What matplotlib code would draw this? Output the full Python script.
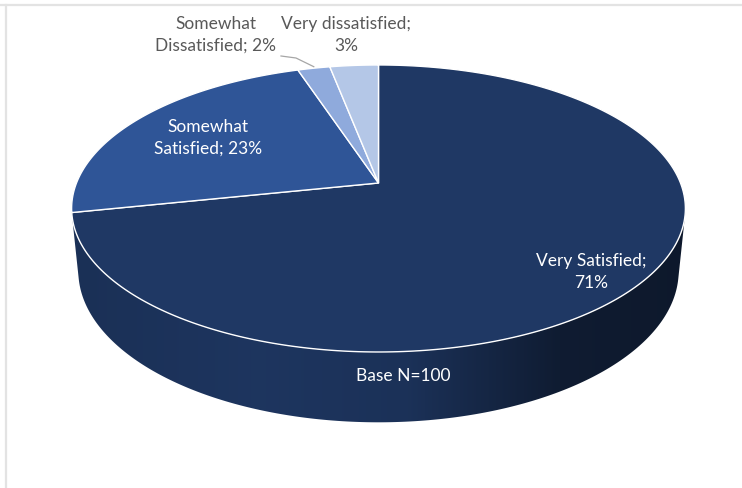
import numpy as np
import matplotlib
matplotlib.use("Agg")
import matplotlib.pyplot as plt
from matplotlib.patches import Polygon
from matplotlib.lines import Line2D
from matplotlib.colors import to_rgb

# ---------------- data ----------------
categories = ["Very Satisfied", "Somewhat\nSatisfied", "Somewhat\nDissatisfied", "Very dissatisfied"]
values = [71, 23, 2, 3]
pct_labels = ["71%", "23%", "2%", "3%"]
colors = ["#1F3864", "#2F5597", "#8FAADC", "#B4C7E7"]
base_label = "Base N=100"

# ---------------- 3D view parameters ----------------
ELEV = np.deg2rad(27.4)
FDIST = 5.0
THICK = 0.235

plt.rcParams['font.family'] = ['Lato', 'DejaVu Sans']
FS = 12.5


def project(phi, y):
    """phi: clockwise angle from the far (12 o'clock) point; y: height."""
    x = np.sin(phi)
    z = -np.cos(phi)
    Y = y * np.cos(ELEV) - z * np.sin(ELEV)
    Z = y * np.sin(ELEV) + z * np.cos(ELEV)
    s = FDIST / (FDIST - Z)
    return x * s, Y * s


fig = plt.figure(figsize=(7.42, 4.88), dpi=100)
ax = fig.add_axes([0, 0, 1, 1])
PX = 302.0
cx, cy = 378.5, 183.0
ax.set_xlim(-cx / PX, (742 - cx) / PX)
ax.set_ylim(-(488 - cy) / PX, cy / PX)
ax.axis('off')

total = float(sum(values))
fracs = np.array(values) / total
bounds = np.concatenate([[0], np.cumsum(fracs)]) * 2 * np.pi

# visible side range (normal facing the camera)
c_lim = -1.0 / (FDIST * np.cos(ELEV))
phi_vis0 = np.arccos(c_lim)
phi_vis1 = 2 * np.pi - phi_vis0

# ---------------- sides ----------------
grad_u = np.linspace(ax.get_xlim()[0], ax.get_xlim()[1], 600)
for i in range(len(values)):
    a0, a1 = bounds[i], bounds[i + 1]
    lo, hi = max(a0, phi_vis0), min(a1, phi_vis1)
    if hi <= lo:
        continue
    ph = np.linspace(lo, hi, 200)
    tu, tv = project(ph, 0.0)
    bu, bv = project(ph[::-1], -THICK)
    pts = np.column_stack([np.concatenate([tu, bu]), np.concatenate([tv, bv])])
    poly = Polygon(pts, closed=True, facecolor='none', edgecolor='none')
    ax.add_patch(poly)
    base = np.array(to_rgb(colors[i]))
    t = (grad_u + 1.0) / 2.0
    fac = np.interp(t, [0.0, 0.3, 0.55, 0.8, 1.0], [0.86, 0.95, 0.88, 0.5, 0.44])
    img = (base[None, :] * fac[:, None])[None, :, :]
    im = ax.imshow(img, extent=[grad_u[0], grad_u[-1], -2, 2], aspect='auto',
                   interpolation='bilinear', zorder=1)
    im.set_clip_path(poly)

ax.set_xlim(-cx / PX, (742 - cx) / PX)
ax.set_ylim(-(488 - cy) / PX, cy / PX)

# ---------------- top face ----------------
for i in range(len(values)):
    a0, a1 = bounds[i], bounds[i + 1]
    ph = np.linspace(a0, a1, 300)
    u, v = project(ph, 0.0)
    pts = np.column_stack([np.concatenate([[0.0], u]), np.concatenate([[0.0], v])])
    ax.add_patch(Polygon(pts, closed=True, facecolor=colors[i], edgecolor='white',
                         linewidth=1.0, joinstyle='miter', zorder=3))

# ---------------- labels ----------------
inside_pos = {0: (591, 272), 1: (208, 138)}
outside_pos = {2: (216, 35), 3: (346, 35)}
for i in range(len(values)):
    txt = f"{categories[i]}; {pct_labels[i]}" if i in (1, 2) else f"{categories[i]};\n{pct_labels[i]}"
    if i in inside_pos:
        px, py = inside_pos[i]
        ax.text((px - cx) / PX, (cy - py) / PX, txt, color='white', fontsize=FS,
                ha='center', va='center', linespacing=1.4, zorder=5)
    else:
        px, py = outside_pos[i]
        ax.text((px - cx) / PX, (cy - py) / PX, txt, color='#595959', fontsize=FS,
                ha='center', va='center', linespacing=1.4, zorder=5)

# leader line for the 2% slice
mid = (bounds[2] + bounds[3]) / 2
lu, lv = project(mid, 0.0)
ax.plot([(281 - cx) / PX, (296 - cx) / PX, lu], [(cy - 56) / PX, (cy - 58) / PX, lv + 0.005],
        color='#a6a6a6', linewidth=0.9, zorder=4)

ax.text((403 - cx) / PX, (cy - 376) / PX, base_label, color='white', fontsize=FS,
        ha='center', va='center', zorder=5)

# ---------------- chart border ----------------
fig.add_artist(Line2D([0, 1], [1 - 4.5 / 488, 1 - 4.5 / 488], transform=fig.transFigure,
                      color='#e3e3e3', linewidth=1.6))
fig.add_artist(Line2D([5.5 / 742, 5.5 / 742], [0, 1 - 4.5 / 488], transform=fig.transFigure,
                      color='#e3e3e3', linewidth=1.6))

fig.savefig("out.png", dpi=100, facecolor='white')
